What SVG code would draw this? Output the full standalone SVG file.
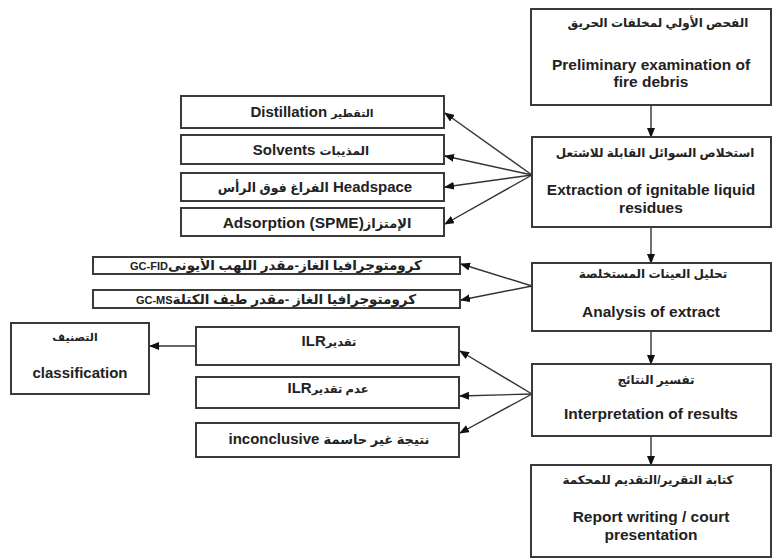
<svg xmlns="http://www.w3.org/2000/svg" width="772" height="559" viewBox="0 0 772 559">
<style>
.box{fill:#fff;stroke:#3a3a3a;stroke-width:2}
.t{font-family:"Liberation Sans","DejaVu Sans",sans-serif;font-weight:bold;fill:#222;text-anchor:middle}
.m{font-size:15.5px}
.ar{font-size:12px}
.e{font-size:15px}
.c{stroke:#333;stroke-width:1.4;fill:none;marker-end:url(#ah)}
</style>
<defs>
<marker id="ah" markerUnits="userSpaceOnUse" markerWidth="10" markerHeight="8" refX="9" refY="4" orient="auto">
<path d="M0,0 L10,4 L0,8 z" fill="#111"/>
</marker>
</defs>
<rect width="772" height="559" fill="#fff"/>
<g id="connectors">
<line class="c" x1="651" y1="105" x2="651" y2="137"/>
<line class="c" x1="651" y1="227" x2="651" y2="263"/>
<line class="c" x1="651" y1="331" x2="651" y2="364"/>
<line class="c" x1="651" y1="436" x2="651" y2="465"/>
<line class="c" x1="532" y1="175" x2="445" y2="113"/>
<line class="c" x1="532" y1="175" x2="445" y2="156"/>
<line class="c" x1="532" y1="175" x2="445" y2="187"/>
<line class="c" x1="532" y1="175" x2="445" y2="224"/>
<line class="c" x1="532" y1="286" x2="461" y2="264"/>
<line class="c" x1="532" y1="286" x2="461" y2="300"/>
<line class="c" x1="532" y1="394" x2="460" y2="351"/>
<line class="c" x1="532" y1="394" x2="460" y2="396"/>
<line class="c" x1="532" y1="394" x2="460" y2="433"/>
<line class="c" x1="196" y1="346" x2="150" y2="346"/>
</g>
<g id="n1"><rect class="box" x="531" y="9" width="240" height="96"/>
<text class="t ar" x="658" y="27" direction="rtl">الفحص الأولي لمخلفات الحريق</text>
<text class="t m" x="651" y="70">Preliminary examination of</text>
<text class="t m" x="651" y="87">fire debris</text></g>
<g id="n2"><rect class="box" x="532" y="137" width="239" height="90"/>
<text class="t ar" x="655" y="157" direction="rtl">استخلاص السوائل القابلة للاشتعل</text>
<text class="t m" x="651" y="195">Extraction of ignitable liquid</text>
<text class="t m" x="651" y="213">residues</text></g>
<g id="n3"><rect class="box" x="532" y="263" width="239" height="68"/>
<text class="t ar" x="653" y="278" direction="rtl">تحليل العينات المستخلصة</text>
<text class="t m" x="651" y="317">Analysis of extract</text></g>
<g id="n4"><rect class="box" x="532" y="364" width="239" height="72"/>
<text class="t ar" x="656" y="384" direction="rtl">تفسير النتائج</text>
<text class="t m" x="651" y="419">Interpretation of results</text></g>
<g id="n5"><rect class="box" x="531" y="465" width="240" height="92"/>
<text class="t ar" x="648" y="484" direction="rtl">كتابة التقرير/التقديم للمحكمة</text>
<text class="t m" x="651" y="522">Report writing / court</text>
<text class="t m" x="651" y="540">presentation</text></g>
<g id="distillation"><rect class="box" x="181" y="96" width="263" height="32"/>
<text class="t e" x="312" y="117">Distillation <tspan font-size="11">التقطير</tspan></text></g>
<g id="solvents"><rect class="box" x="181" y="135" width="263" height="29"/>
<text class="t e" x="311" y="155">Solvents <tspan font-size="12">المذيبات</tspan></text></g>
<g id="headspace"><rect class="box" x="181" y="173" width="263" height="28"/>
<text class="t e" x="315" y="192"><tspan font-size="12.5">الفراغ فوق الرأس</tspan> Headspace</text></g>
<g id="adsorption"><rect class="box" x="181" y="208" width="263" height="28"/>
<text class="t" x="317" y="228" font-size="15.5">Adsorption (SPME)<tspan font-size="13">الإمتزاز</tspan></text></g>
<g id="gcfid"><rect class="box" x="93" y="257" width="367" height="17"/>
<text class="t" x="276" y="270" font-size="11">GC-FID<tspan font-size="13.5">كرومتوجرافيا الغاز-مقدر اللهب الأيونى</tspan></text></g>
<g id="gcms"><rect class="box" x="93" y="290" width="367" height="18"/>
<text class="t" x="276" y="303.5" font-size="11">GC-MS<tspan font-size="13.5">كرومتوجرافيا الغاز -مقدر طيف الكتلة</tspan></text></g>
<g id="ilr"><rect class="box" x="196" y="327" width="263" height="38"/>
<text class="t e" x="329" y="346">ILR<tspan font-size="11.5">تقدير</tspan></text></g>
<g id="noilr"><rect class="box" x="196" y="377" width="263" height="31"/>
<text class="t e" x="328" y="393">ILR<tspan font-size="11.5">عدم تقدير</tspan></text></g>
<g id="inconclusive"><rect class="box" x="196" y="423" width="263" height="34"/>
<text class="t e" x="329" y="444">inconclusive <tspan font-size="13">نتيجة غير حاسمة</tspan></text></g>
<g id="classification"><rect class="box" x="11" y="323" width="138" height="71"/>
<text class="t" x="75" y="341" font-size="11" direction="rtl">التصنيف</text>
<text class="t" x="80" y="378" font-size="15">classification</text></g>
</svg>
